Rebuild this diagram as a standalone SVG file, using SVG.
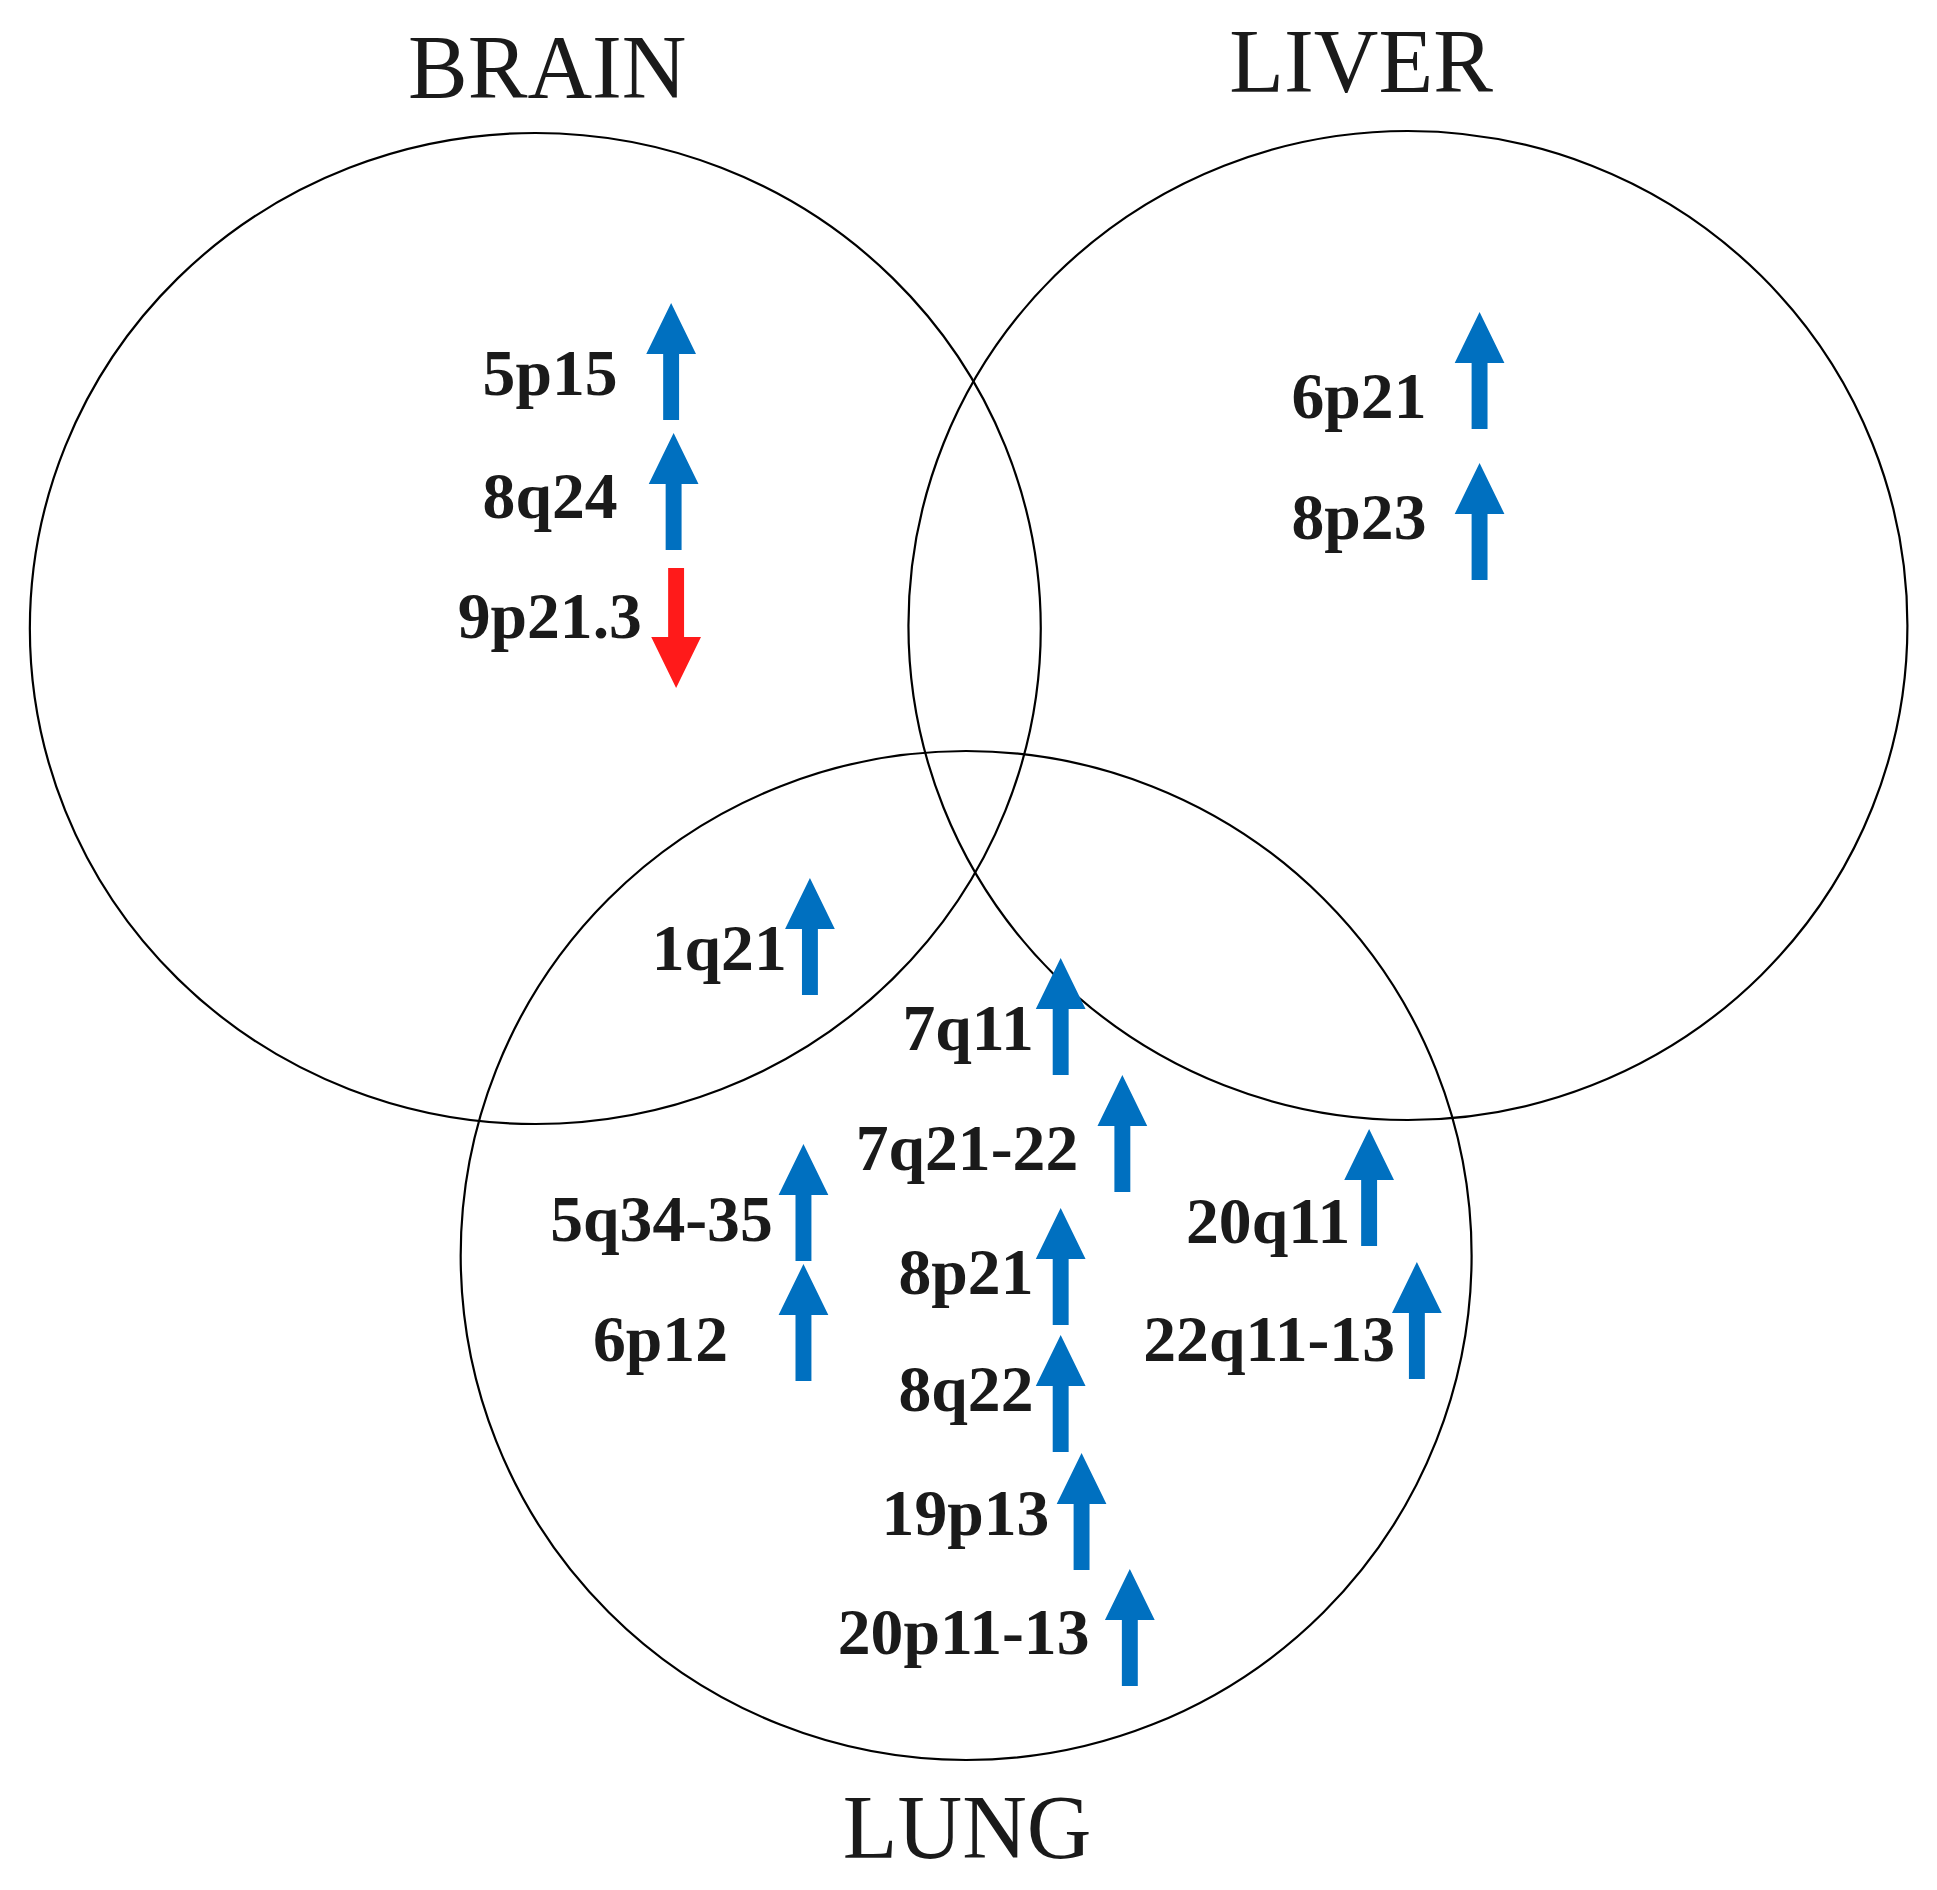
<svg xmlns="http://www.w3.org/2000/svg" xmlns:xlink="http://www.w3.org/1999/xlink" width="1937" height="1890" viewBox="0 0 1937 1890">
<style>
.set{fill:none;stroke:#000;stroke-width:2.2}
.title{font-family:"Liberation Serif","Times New Roman",serif;font-size:90px;fill:#1a1a1a;text-anchor:middle}
.lbl{font-family:"Liberation Serif","Times New Roman",serif;font-size:66px;font-weight:bold;fill:#1a1a1a}
.up{fill:#0070C0}
.down{fill:#FF1A1A}
</style>
<defs>
<path id="arrUp" d="M0,-3 L25,48 L8,48 L8,114 L-8,114 L-8,48 L-25,48 Z"/>
<path id="arrDown" d="M0,-3 L-25,-54 L-8,-54 L-8,-123 L8,-123 L8,-54 L25,-54 Z"/>
</defs>
<rect width="1937" height="1890" fill="#fff"/>
<g id="diagram" transform="scale(0.995 1)">
<g id="sets">
<g id="brain"><ellipse class="set" cx="538" cy="628.5" rx="508" ry="495.5"/><text class="title" x="550" y="98">BRAIN</text></g>
<g id="liver"><ellipse class="set" cx="1415" cy="625.5" rx="502" ry="494.5"/><text class="title" x="1368" y="92">LIVER</text></g>
<g id="lung"><ellipse class="set" cx="971" cy="1255.5" rx="508" ry="504.5"/><text class="title" x="972" y="1858">LUNG</text></g>
</g>
<g id="connectors"></g>
<g id="n-5p15"><text class="lbl" x="485" y="395">5p15</text><use xlink:href="#arrUp" class="up" x="674.5" y="306"/></g>
<g id="n-8q24"><text class="lbl" x="485" y="518">8q24</text><use xlink:href="#arrUp" class="up" x="677" y="436"/></g>
<g id="n-9p21.3"><text class="lbl" x="460" y="638">9p21.3</text><use xlink:href="#arrDown" class="down" x="679.5" y="691"/></g>
<g id="n-6p21"><text class="lbl" x="1298" y="418">6p21</text><use xlink:href="#arrUp" class="up" x="1487" y="315"/></g>
<g id="n-8p23"><text class="lbl" x="1298" y="539">8p23</text><use xlink:href="#arrUp" class="up" x="1487" y="466"/></g>
<g id="n-1q21"><text class="lbl" x="655" y="970">1q21</text><use xlink:href="#arrUp" class="up" x="814" y="881"/></g>
<g id="n-7q11"><text class="lbl" x="907" y="1050">7q11</text><use xlink:href="#arrUp" class="up" x="1066" y="961"/></g>
<g id="n-7q21-22"><text class="lbl" x="860" y="1170">7q21-22</text><use xlink:href="#arrUp" class="up" x="1128" y="1078"/></g>
<g id="n-5q34-35"><text class="lbl" x="553" y="1241">5q34-35</text><use xlink:href="#arrUp" class="up" x="807.5" y="1147"/></g>
<g id="n-20q11"><text class="lbl" x="1192" y="1243">20q11</text><use xlink:href="#arrUp" class="up" x="1376" y="1132"/></g>
<g id="n-8p21"><text class="lbl" x="903" y="1294">8p21</text><use xlink:href="#arrUp" class="up" x="1066" y="1211"/></g>
<g id="n-6p12"><text class="lbl" x="596" y="1361">6p12</text><use xlink:href="#arrUp" class="up" x="807.5" y="1267"/></g>
<g id="n-22q11-13"><text class="lbl" x="1149" y="1361">22q11-13</text><use xlink:href="#arrUp" class="up" x="1424" y="1265"/></g>
<g id="n-8q22"><text class="lbl" x="903" y="1411">8q22</text><use xlink:href="#arrUp" class="up" x="1066" y="1338"/></g>
<g id="n-19p13"><text class="lbl" x="886" y="1535">19p13</text><use xlink:href="#arrUp" class="up" x="1087" y="1456"/></g>
<g id="n-20p11-13"><text class="lbl" x="842" y="1654">20p11-13</text><use xlink:href="#arrUp" class="up" x="1135.5" y="1572"/></g>
</g>
</svg>
